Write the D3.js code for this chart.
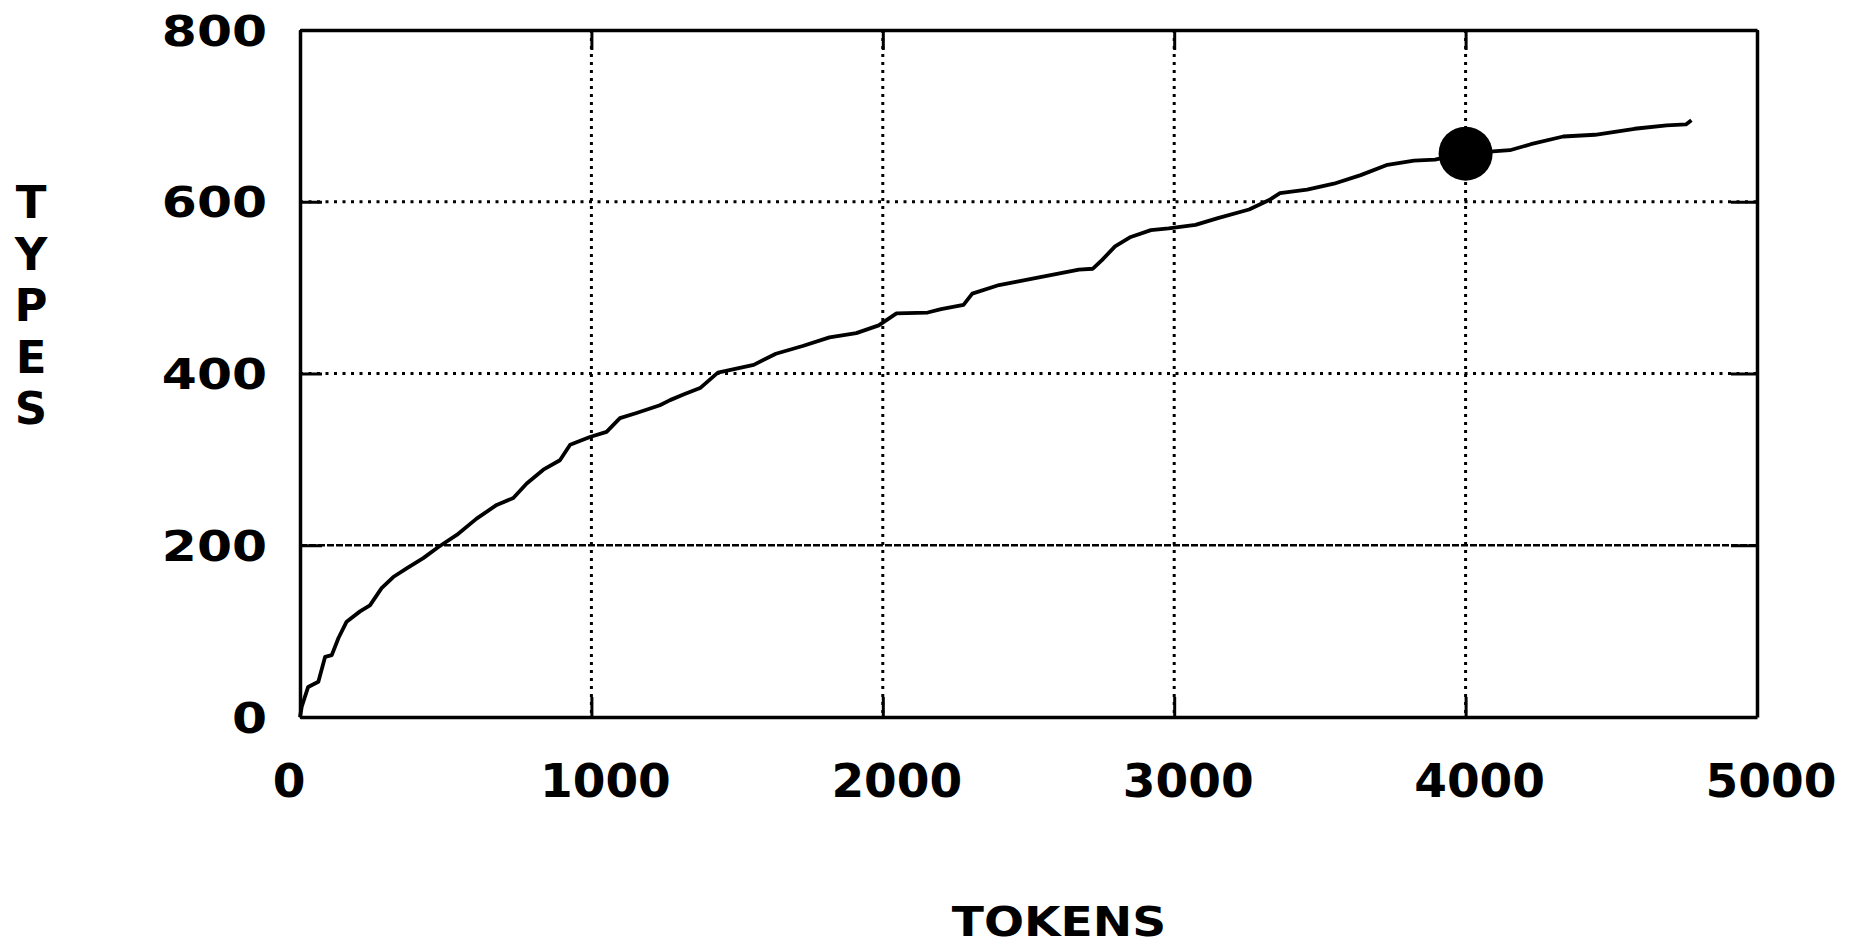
<!DOCTYPE html>
<html>
<head>
<meta charset="utf-8">
<script src="https://cdn.jsdelivr.net/npm/d3@7"></script>
<style>
  body { margin: 0; background: #fff; }
  svg text { font-family: "DejaVu Sans", sans-serif; font-weight: bold; fill: #000; }
</style>
</head>
<body>
<script>
// type/token curve
var tokens = [0, 6, 28, 63, 86, 109, 132, 160, 206, 240, 280, 320, 366, 423, 475, 538, 606, 675, 732, 778,
  835, 892, 927, 995, 1052, 1098, 1155, 1235, 1270, 1320, 1373, 1434, 1557, 1633, 1725, 1817, 1909, 1986,
  2047, 2154, 2200, 2277, 2307, 2399, 2461, 2536, 2598, 2673, 2721, 2752, 2797, 2851, 2920, 2981, 3073,
  3150, 3257, 3326, 3363, 3456, 3548, 3640, 3732, 3823, 3895, 3988, 4152, 4224, 4335, 4444, 4580, 4690,
  4756, 4775]
var types = [0, 12, 35, 41, 70, 72, 92, 111, 123, 130, 150, 163, 173, 185, 198, 212, 231, 247, 255, 272,
  288, 299, 317, 326, 332, 348, 354, 363, 369, 376, 383, 401, 410, 423, 432, 442, 447, 456,
  470, 471, 475, 480, 493, 503, 507, 512, 516, 521, 522, 532, 548, 559, 567, 569, 573,
  581, 591, 602, 610, 614, 621, 631, 643, 648, 649, 656, 660, 667, 676, 678, 685, 689,
  690, 695]

var xTicks = [0, 1000, 2000, 3000, 4000, 5000]
var yTicks = [0, 200, 400, 600, 800]
var markerX = [4000]
var markerY = [656]

var xLabel = "TOKENS"
var yLabel = "TYPES"

var margin = {left: 300, top: 30, right: 101, bottom: 227}
var width = 1858 - margin.left - margin.right
var height = 944 - margin.top - margin.bottom

var data = tokens.map((t, i) => ({x: t, y: types[i]}))

let svg = d3.select('body')
  .append('svg')
  .attr('width', 1858)
  .attr('height', 944)

let Xscale = d3.scaleLinear().domain([0, 5000]).range([0, width])
let Yscale = d3.scaleLinear().domain([0, 800]).range([height, 0])

let g = svg.append('g')
  .attr('transform', 'translate(' + margin.left + ',' + margin.top + ')')

// dotted grid
g.selectAll('.vgrid')
  .data(xTicks.slice(1, -1))
  .enter()
  .append('line')
  .attr('x1', d => Xscale(d)).attr('x2', d => Xscale(d))
  .attr('y1', 0).attr('y2', height)
  .attr('stroke', '#000')
  .attr('stroke-width', 3)
  .attr('stroke-dasharray', '3,5')

g.selectAll('.hgrid')
  .data(yTicks.slice(1, -1))
  .enter()
  .append('line')
  .attr('x1', 0).attr('x2', width)
  .attr('y1', d => Yscale(d)).attr('y2', d => Yscale(d))
  .attr('stroke', '#000')
  .attr('stroke-width', d => d == 200 ? 2.5 : 3)
  .attr('stroke-dasharray', d => d == 200 ? '7,2' : '3,5.5')

// frame with short inward ticks on all four sides
function styleAxis(sel) {
  sel.select('.domain').attr('stroke-width', 3.5)
  sel.selectAll('.tick line').attr('stroke-width', 3)
  sel.selectAll('.tick text').remove()
}

g.append('g').attr('transform', 'translate(0,' + height + ')')
  .call(d3.axisBottom(Xscale).tickValues(xTicks).tickSize(-20).tickSizeOuter(0))
  .call(styleAxis)
g.append('g')
  .call(d3.axisTop(Xscale).tickValues(xTicks).tickSize(-20).tickSizeOuter(0))
  .call(styleAxis)
g.append('g')
  .call(d3.axisLeft(Yscale).tickValues(yTicks).tickSize(-22).tickSizeOuter(0))
  .call(styleAxis)
g.append('g').attr('transform', 'translate(' + width + ',0)')
  .call(d3.axisRight(Yscale).tickValues(yTicks).tickSize(-26).tickSizeOuter(0))
  .call(styleAxis)

// tick labels
g.selectAll('.xlab')
  .data(xTicks)
  .enter()
  .append('text')
  .attr('x', d => Xscale(d) + (d == 0 ? -11 : 14))
  .attr('y', height + 80)
  .attr('text-anchor', 'middle')
  .style('font-size', '47px')
  .text(d => d)

g.selectAll('.ylab')
  .data(yTicks)
  .enter()
  .append('text')
  .attr('transform', d => 'translate(-33,' + (Yscale(d) + 15.5) + ') scale(1.2,1)')
  .attr('text-anchor', 'end')
  .style('font-size', '42px')
  .text(d => d)

// the curve
let line = d3.line()
  .x(d => Xscale(d.x))
  .y(d => Yscale(d.y))

g.append('path')
  .datum(data)
  .attr('fill', 'none')
  .attr('stroke', '#000')
  .attr('stroke-width', 3.8)
  .attr('stroke-linejoin', 'round')
  .attr('d', line)

g.selectAll('.marker')
  .data(markerX)
  .enter()
  .append('circle')
  .attr('cx', d => Xscale(d))
  .attr('cy', (d, i) => Yscale(markerY[i]))
  .attr('r', 27)
  .style('fill', '#000')

// axis titles
svg.append('text')
  .attr('transform', 'translate(1059,936) scale(1.15,1)')
  .attr('text-anchor', 'middle')
  .style('font-size', '41px')
  .text(xLabel)

svg.selectAll('.ychar')
  .data(yLabel.split(''))
  .enter()
  .append('text')
  .attr('x', 31)
  .attr('y', (d, i) => 218 + i * 51.5)
  .attr('text-anchor', 'middle')
  .style('font-size', '45px')
  .text(d => d)
</script>
</body>
</html>
